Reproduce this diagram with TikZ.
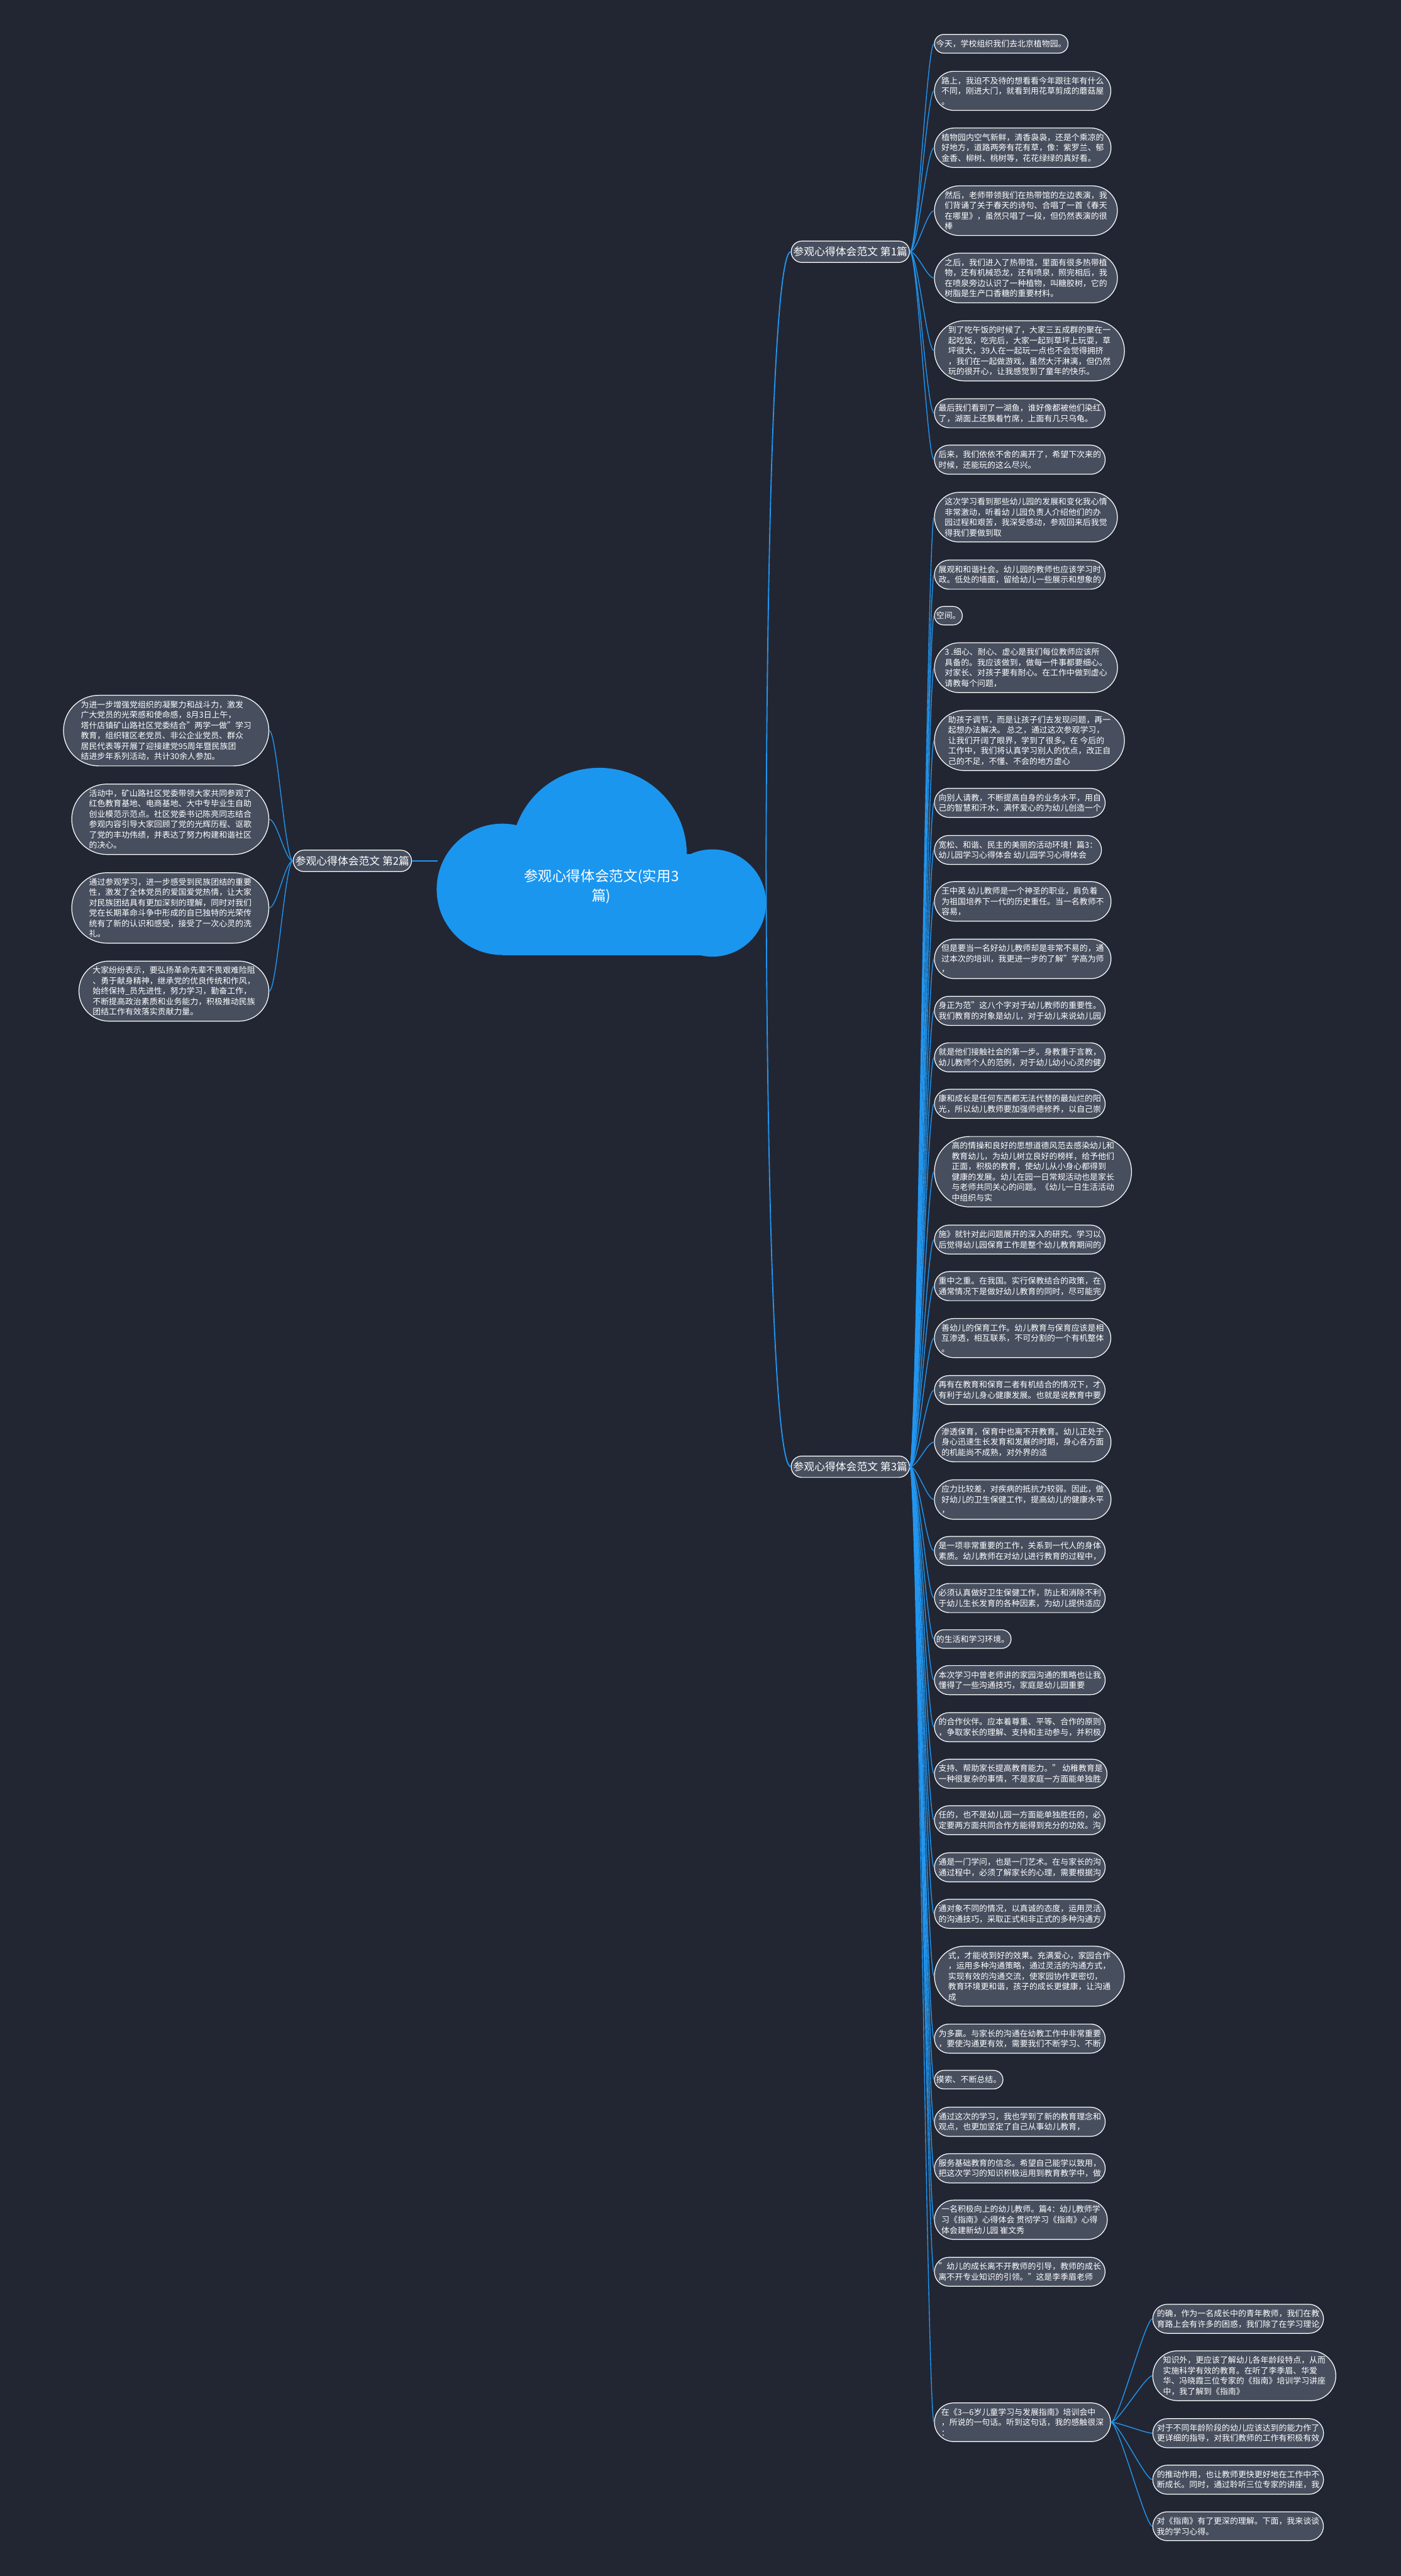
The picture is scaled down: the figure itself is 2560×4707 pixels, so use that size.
\documentclass[tikz,border=0pt]{standalone}
\usepackage{fontspec}
\setmainfont{Noto Sans CJK SC}
\usepackage{xcolor}
\usetikzlibrary{shapes.misc}

\definecolor{bgdark}{HTML}{222633}
\definecolor{leaffill}{HTML}{474E5E}
\definecolor{linkblue}{HTML}{2196F0}
\definecolor{cloudblue}{HTML}{1A96EF}

\begin{document}
\begin{tikzpicture}[
    x=0.02cm, y=-0.02cm,
    leafbox/.style={draw=white, line width=0.8pt, fill=leaffill, rounded rectangle, inner xsep=1pt, inner ysep=5.7pt, align=left, text=white, font=\fontsize{8.45}{10.8}\selectfont},
    branchbox/.style={leafbox, inner ysep=6pt, font=\fontsize{11}{13}\selectfont},
    link/.style={draw=linkblue, line width=0.9pt},
    trunk/.style={draw=linkblue, line width=1.2pt}
]
    \useasboundingbox[fill=bgdark] (0,0) rectangle (2560,4707);

    % ================= CLOUD =================
    \fill[cloudblue] (918,1625) circle [x radius=120, y radius=120];
    \fill[cloudblue] (1095,1560) ellipse [x radius=160, y radius=157];
    \fill[cloudblue] (1302,1650) circle [x radius=98, y radius=98];
    \fill[cloudblue] (918,1560) rectangle (1302,1745);
    \node[text=white, align=center, font=\fontsize{14.8}{19.8}\selectfont] (root) at (1099,1620) {参观心得体会范文(实用3\\篇)};
    \coordinate (rootE) at (1400,1573);
    \coordinate (rootW) at (800,1573);

    % ================= BRANCHES =================
    \node[branchbox] (b1) at (1554,460) {参观心得体会范文 第1篇};
    \node[branchbox] (b2) at (644,1573) {参观心得体会范文 第2篇};
    \node[branchbox] (b3) at (1554,2680) {参观心得体会范文 第3篇};

    \draw[trunk] (rootE) .. controls +(2,-700) and +(-26,0) .. (b1.west);
    \draw[trunk] (rootE) .. controls +(2,700) and +(-26,0) .. (b3.west);
    \draw[trunk] (rootW) -- (b2.east);

    % ================= BRANCH 1 =================
    \node[leafbox, anchor=west] (n1) at (1707,80) {今天，学校组织我们去北京植物园。};
    \node[leafbox, anchor=west] (n2) at (1707,166) {路上，我迫不及待的想看看今年跟往年有什么\\不同，刚进大门，就看到用花草剪成的蘑菇屋\\。};
    \node[leafbox, anchor=west] (n3) at (1707,270) {植物园内空气新鲜，清香袅袅，还是个乘凉的\\好地方，道路两旁有花有草，像：紫罗兰、郁\\金香、柳树、桃树等，花花绿绿的真好看。};
    \node[leafbox, anchor=west] (n4) at (1707,385) {然后，老师带领我们在热带馆的左边表演，我\\们背诵了关于春天的诗句、合唱了一首《春天\\在哪里》，虽然只唱了一段，但仍然表演的很\\棒};
    \node[leafbox, anchor=west] (n5) at (1707,508) {之后，我们进入了热带馆，里面有很多热带植\\物，还有机械恐龙，还有喷泉，照完相后，我\\在喷泉旁边认识了一种植物，叫糖胶树，它的\\树脂是生产口香糖的重要材料。};
    \node[leafbox, anchor=west] (n6) at (1707,641) {到了吃午饭的时候了，大家三五成群的聚在一\\起吃饭，吃完后，大家一起到草坪上玩耍，草\\坪很大，39人在一起玩一点也不会觉得拥挤\\，我们在一起做游戏，虽然大汗淋漓，但仍然\\玩的很开心，让我感觉到了童年的快乐。};
    \node[leafbox, anchor=west] (n7) at (1707,755) {最后我们看到了一湖鱼，谁好像都被他们染红\\了，湖面上还飘着竹席，上面有几只乌龟。};
    \node[leafbox, anchor=west] (n8) at (1707,840) {后来，我们依依不舍的离开了，希望下次来的\\时候，还能玩的这么尽兴。};

    \draw[link] (b1.east) .. controls +(14,0) and +(-13,0) .. (n1.west);
    \draw[link] (b1.east) .. controls +(14,0) and +(-13,0) .. (n2.west);
    \draw[link] (b1.east) .. controls +(14,0) and +(-13,0) .. (n3.west);
    \draw[link] (b1.east) .. controls +(14,0) and +(-13,0) .. (n4.west);
    \draw[link] (b1.east) .. controls +(14,0) and +(-13,0) .. (n5.west);
    \draw[link] (b1.east) .. controls +(14,0) and +(-13,0) .. (n6.west);
    \draw[link] (b1.east) .. controls +(14,0) and +(-13,0) .. (n7.west);
    \draw[link] (b1.east) .. controls +(14,0) and +(-13,0) .. (n8.west);

    % ================= BRANCH 2 =================
    \node[leafbox, anchor=east] (l1) at (492,1335) {为进一步增强党组织的凝聚力和战斗力，激发\\广大党员的光荣感和使命感，8月3日上午，\\塔什店镇矿山路社区党委结合"两学一做"学习\\教育，组织辖区老党员、非公企业党员、群众\\居民代表等开展了迎接建党95周年暨民族团\\结进步年系列活动，共计30余人参加。};
    \node[leafbox, anchor=east] (l2) at (492,1497) {活动中，矿山路社区党委带领大家共同参观了\\红色教育基地、电商基地、大中专毕业生自助\\创业模范示范点。社区党委书记陈亮同志结合\\参观内容引导大家回顾了党的光辉历程、讴歌\\了党的丰功伟绩，并表达了努力构建和谐社区\\的决心。};
    \node[leafbox, anchor=east] (l3) at (492,1659) {通过参观学习，进一步感受到民族团结的重要\\性，激发了全体党员的爱国爱党热情，让大家\\对民族团结具有更加深刻的理解，同时对我们\\党在长期革命斗争中形成的自已独特的光荣传\\统有了新的认识和感受，接受了一次心灵的洗\\礼。};
    \node[leafbox, anchor=east] (l4) at (492,1811) {大家纷纷表示，要弘扬革命先辈不畏艰难险阻\\、勇于献身精神，继承党的优良传统和作风，\\始终保持\_员先进性，努力学习，勤奋工作，\\不断提高政治素质和业务能力，积极推动民族\\团结工作有效落实贡献力量。};

    \draw[link] (b2.west) .. controls +(-14,0) and +(14,0) .. (l1.east);
    \draw[link] (b2.west) .. controls +(-14,0) and +(14,0) .. (l2.east);
    \draw[link] (b2.west) .. controls +(-14,0) and +(14,0) .. (l3.east);
    \draw[link] (b2.west) .. controls +(-14,0) and +(14,0) .. (l4.east);

    % ================= BRANCH 3 =================
    \node[leafbox, anchor=west] (m1) at (1707,945) {这次学习看到那些幼儿园的发展和变化我心情\\非常激动，听着幼 儿园负责人介绍他们的办\\园过程和艰苦，我深受感动，参观回来后我觉\\得我们要做到取};
    \node[leafbox, anchor=west] (m2) at (1707,1050) {展观和和谐社会。幼儿园的教师也应该学习时\\政。低处的墙面，留给幼儿一些展示和想象的};
    \node[leafbox, anchor=west] (m3) at (1707,1125) {空间。};
    \node[leafbox, anchor=west] (m4) at (1707,1220) {3 .细心、耐心、虚心是我们每位教师应该所\\具备的。我应该做到，做每一件事都要细心。\\对家长、对孩子要有耐心。在工作中做到虚心\\请教每个问题，};
    \node[leafbox, anchor=west] (m5) at (1707,1353) {助孩子调节，而是让孩子们去发现问题，再一\\起想办法解决。 总之，通过这次参观学习，\\让我们开阔了眼界，学到了很多。在 今后的\\工作中，我们将认真学习别人的优点，改正自\\己的不足，不懂、不会的地方虚心};
    \node[leafbox, anchor=west] (m6) at (1707,1467) {向别人请教，不断提高自身的业务水平，用自\\己的智慧和汗水，满怀爱心的为幼儿创造一个};
    \node[leafbox, anchor=west] (m7) at (1707,1553) {宽松、和谐、民主的美丽的活动环境！篇3：\\幼儿园学习心得体会 幼儿园学习心得体会};
    \node[leafbox, anchor=west] (m8) at (1707,1647) {王中英 幼儿教师是一个神圣的职业，肩负着\\为祖国培养下一代的历史重任。当一名教师不\\容易，};
    \node[leafbox, anchor=west] (m9) at (1707,1752) {但是要当一名好幼儿教师却是非常不易的，通\\过本次的培训，我更进一步的了解"学高为师\\，};
    \node[leafbox, anchor=west] (m10) at (1707,1847) {身正为范"这八个字对于幼儿教师的重要性。\\我们教育的对象是幼儿，对于幼儿来说幼儿园};
    \node[leafbox, anchor=west] (m11) at (1707,1932) {就是他们接触社会的第一步。身教重于言教，\\幼儿教师个人的范例，对于幼儿幼小心灵的健};
    \node[leafbox, anchor=west] (m12) at (1707,2017) {康和成长是任何东西都无法代替的最灿烂的阳\\光，所以幼儿教师要加强师德修养，以自己崇};
    \node[leafbox, anchor=west] (m13) at (1707,2141) {高的情操和良好的思想道德风范去感染幼儿和\\教育幼儿，为幼儿树立良好的榜样，给予他们\\正面，积极的教育，使幼儿从小身心都得到\\健康的发展。幼儿在园一日常规活动也是家长\\与老师共同关心的问题。《幼儿一日生活活动\\中组织与实};
    \node[leafbox, anchor=west] (m14) at (1707,2265) {施》就针对此问题展开的深入的研究。学习以\\后觉得幼儿园保育工作是整个幼儿教育期间的};
    \node[leafbox, anchor=west] (m15) at (1707,2350) {重中之重。在我国。实行保教结合的政策，在\\通常情况下是做好幼儿教育的同时，尽可能完};
    \node[leafbox, anchor=west] (m16) at (1707,2445) {善幼儿的保育工作。幼儿教育与保育应该是相\\互渗透，相互联系，不可分割的一个有机整体\\。};
    \node[leafbox, anchor=west] (m17) at (1707,2540) {再有在教育和保育二者有机结合的情况下，才\\有利于幼儿身心健康发展。也就是说教育中要};
    \node[leafbox, anchor=west] (m18) at (1707,2635) {渗透保育，保育中也离不开教育。幼儿正处于\\身心迅速生长发育和发展的时期，身心各方面\\的机能尚不成熟，对外界的适};
    \node[leafbox, anchor=west] (m19) at (1707,2740) {应力比较差，对疾病的抵抗力较弱。因此，做\\好幼儿的卫生保健工作，提高幼儿的健康水平\\，};
    \node[leafbox, anchor=west] (m20) at (1707,2834) {是一项非常重要的工作，关系到一代人的身体\\素质。幼儿教师在对幼儿进行教育的过程中，};
    \node[leafbox, anchor=west] (m21) at (1707,2920) {必须认真做好卫生保健工作，防止和消除不利\\于幼儿生长发育的各种因素，为幼儿提供适应};
    \node[leafbox, anchor=west] (m22) at (1707,2995) {的生活和学习环境。};
    \node[leafbox, anchor=west] (m23) at (1707,3070) {本次学习中曾老师讲的家园沟通的策略也让我\\懂得了一些沟通技巧，家庭是幼儿园重要};
    \node[leafbox, anchor=west] (m24) at (1707,3156) {的合作伙伴。应本着尊重、平等、合作的原则\\，争取家长的理解、支持和主动参与，并积极};
    \node[leafbox, anchor=west] (m25) at (1707,3241) {支持、帮助家长提高教育能力。" 幼稚教育是\\一种很复杂的事情，不是家庭一方面能单独胜};
    \node[leafbox, anchor=west] (m26) at (1707,3326) {任的，也不是幼儿园一方面能单独胜任的，必\\定要两方面共同合作方能得到充分的功效。沟};
    \node[leafbox, anchor=west] (m27) at (1707,3412) {通是一门学问，也是一门艺术。在与家长的沟\\通过程中，必须了解家长的心理，需要根据沟};
    \node[leafbox, anchor=west] (m28) at (1707,3497) {通对象不同的情况，以真诚的态度，运用灵活\\的沟通技巧，采取正式和非正式的多种沟通方};
    \node[leafbox, anchor=west] (m29) at (1707,3611) {式，才能收到好的效果。充满爱心，家园合作\\，运用多种沟通策略，通过灵活的沟通方式，\\实现有效的沟通交流，使家园协作更密切，\\教育环境更和谐，孩子的成长更健康，让沟通\\成};
    \node[leafbox, anchor=west] (m30) at (1707,3725) {为多赢。与家长的沟通在幼教工作中非常重要\\，要使沟通更有效，需要我们不断学习、不断};
    \node[leafbox, anchor=west] (m31) at (1707,3800) {摸索、不断总结。};
    \node[leafbox, anchor=west] (m32) at (1707,3877) {通过这次的学习，我也学到了新的教育理念和\\观点，也更加坚定了自己从事幼儿教育，};
    \node[leafbox, anchor=west] (m33) at (1707,3962) {服务基础教育的信念。希望自己能学以致用，\\把这次学习的知识积极运用到教育教学中，做};
    \node[leafbox, anchor=west] (m34) at (1707,4056) {一名积极向上的幼儿教师。篇4：幼儿教师学\\习《指南》心得体会 贯彻学习《指南》心得\\体会建新幼儿园 崔文秀};
    \node[leafbox, anchor=west] (m35) at (1707,4151) {"幼儿的成长离不开教师的引导，教师的成长\\离不开专业知识的引领。"这是李季眉老师};
    \node[leafbox, anchor=west] (m36) at (1707,4426) {在《3—6岁儿童学习与发展指南》培训会中\\，所说的一句话。听到这句话，我的感触很深\\：};

    \draw[link] (b3.east) .. controls +(14,0) and +(-13,0) .. (m1.west);
    \draw[link] (b3.east) .. controls +(14,0) and +(-13,0) .. (m2.west);
    \draw[link] (b3.east) .. controls +(14,0) and +(-13,0) .. (m3.west);
    \draw[link] (b3.east) .. controls +(14,0) and +(-13,0) .. (m4.west);
    \draw[link] (b3.east) .. controls +(14,0) and +(-13,0) .. (m5.west);
    \draw[link] (b3.east) .. controls +(14,0) and +(-13,0) .. (m6.west);
    \draw[link] (b3.east) .. controls +(14,0) and +(-13,0) .. (m7.west);
    \draw[link] (b3.east) .. controls +(14,0) and +(-13,0) .. (m8.west);
    \draw[link] (b3.east) .. controls +(14,0) and +(-13,0) .. (m9.west);
    \draw[link] (b3.east) .. controls +(14,0) and +(-13,0) .. (m10.west);
    \draw[link] (b3.east) .. controls +(14,0) and +(-13,0) .. (m11.west);
    \draw[link] (b3.east) .. controls +(14,0) and +(-13,0) .. (m12.west);
    \draw[link] (b3.east) .. controls +(14,0) and +(-13,0) .. (m13.west);
    \draw[link] (b3.east) .. controls +(14,0) and +(-13,0) .. (m14.west);
    \draw[link] (b3.east) .. controls +(14,0) and +(-13,0) .. (m15.west);
    \draw[link] (b3.east) .. controls +(14,0) and +(-13,0) .. (m16.west);
    \draw[link] (b3.east) .. controls +(14,0) and +(-13,0) .. (m17.west);
    \draw[link] (b3.east) .. controls +(14,0) and +(-13,0) .. (m18.west);
    \draw[link] (b3.east) .. controls +(14,0) and +(-13,0) .. (m19.west);
    \draw[link] (b3.east) .. controls +(14,0) and +(-13,0) .. (m20.west);
    \draw[link] (b3.east) .. controls +(14,0) and +(-13,0) .. (m21.west);
    \draw[link] (b3.east) .. controls +(14,0) and +(-13,0) .. (m22.west);
    \draw[link] (b3.east) .. controls +(14,0) and +(-13,0) .. (m23.west);
    \draw[link] (b3.east) .. controls +(14,0) and +(-13,0) .. (m24.west);
    \draw[link] (b3.east) .. controls +(14,0) and +(-13,0) .. (m25.west);
    \draw[link] (b3.east) .. controls +(14,0) and +(-13,0) .. (m26.west);
    \draw[link] (b3.east) .. controls +(14,0) and +(-13,0) .. (m27.west);
    \draw[link] (b3.east) .. controls +(14,0) and +(-13,0) .. (m28.west);
    \draw[link] (b3.east) .. controls +(14,0) and +(-13,0) .. (m29.west);
    \draw[link] (b3.east) .. controls +(14,0) and +(-13,0) .. (m30.west);
    \draw[link] (b3.east) .. controls +(14,0) and +(-13,0) .. (m31.west);
    \draw[link] (b3.east) .. controls +(14,0) and +(-13,0) .. (m32.west);
    \draw[link] (b3.east) .. controls +(14,0) and +(-13,0) .. (m33.west);
    \draw[link] (b3.east) .. controls +(14,0) and +(-13,0) .. (m34.west);
    \draw[link] (b3.east) .. controls +(14,0) and +(-13,0) .. (m35.west);
    \draw[link] (b3.east) .. controls +(14,0) and +(-13,0) .. (m36.west);

    % ================= BRANCH 3, SUB-NODE =================
    \node[leafbox, anchor=west] (s1) at (2106,4237) {的确，作为一名成长中的青年教师，我们在教\\育路上会有许多的困惑，我们除了在学习理论};
    \node[leafbox, anchor=west] (s2) at (2106,4341) {知识外，更应该了解幼儿各年龄段特点，从而\\实施科学有效的教育。在听了李季眉、华爱\\华、冯晓霞三位专家的《指南》培训学习讲座\\中，我了解到《指南》};
    \node[leafbox, anchor=west] (s3) at (2106,4446) {对于不同年龄阶段的幼儿应该达到的能力作了\\更详细的指导，对我们教师的工作有积极有效};
    \node[leafbox, anchor=west] (s4) at (2106,4531) {的推动作用，也让教师更快更好地在工作中不\\断成长。同时，通过聆听三位专家的讲座，我};
    \node[leafbox, anchor=west] (s5) at (2106,4616) {对《指南》有了更深的理解。下面，我来谈谈\\我的学习心得。};

    \draw[link] (m36.east) .. controls +(14,0) and +(-13,0) .. (s1.west);
    \draw[link] (m36.east) .. controls +(14,0) and +(-13,0) .. (s2.west);
    \draw[link] (m36.east) .. controls +(14,0) and +(-13,0) .. (s3.west);
    \draw[link] (m36.east) .. controls +(14,0) and +(-13,0) .. (s4.west);
    \draw[link] (m36.east) .. controls +(14,0) and +(-13,0) .. (s5.west);

\end{tikzpicture}
\end{document}
